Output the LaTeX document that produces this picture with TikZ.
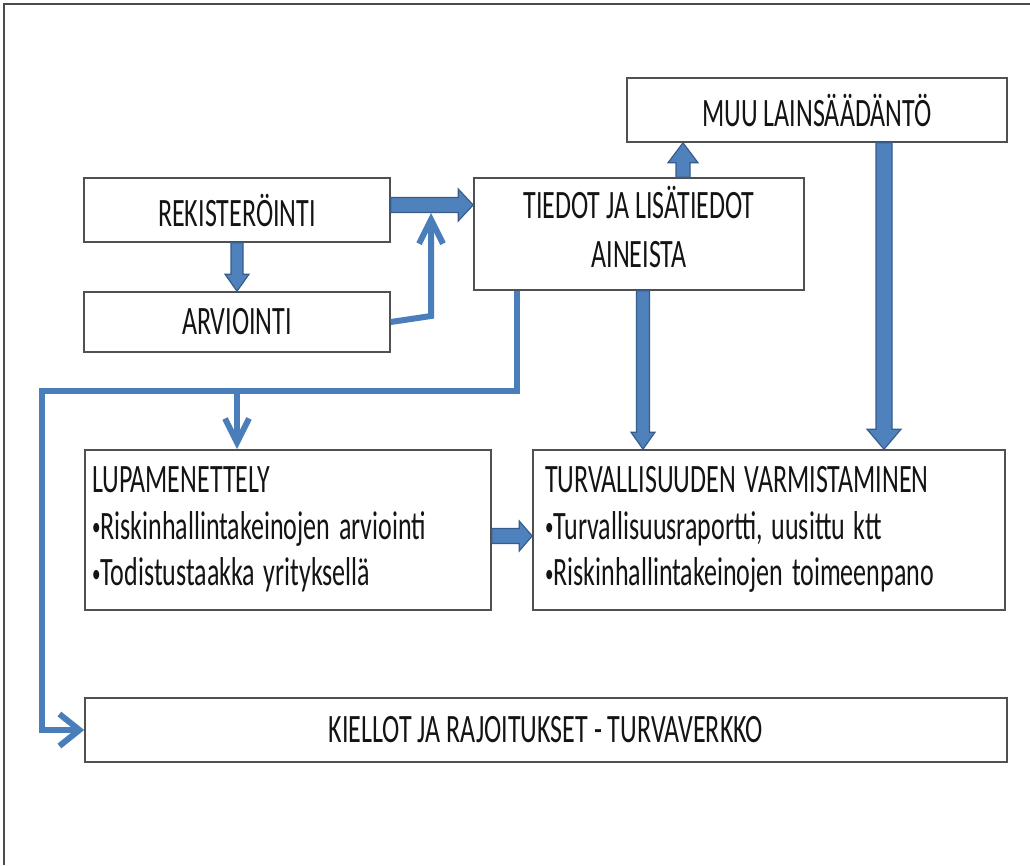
\documentclass[tikz,border=0pt]{standalone}
\usepackage{fontspec}
\setmainfont{Carlito}
\usetikzlibrary{arrows.meta,calc}
\definecolor{fatfill}{HTML}{4F81BD}
\definecolor{fatline}{HTML}{385D8A}
\definecolor{thinblue}{HTML}{4A7EBB}
\definecolor{boxline}{HTML}{505050}
\definecolor{txt}{HTML}{141414}
\newcommand{\stretchtext}[1]{\scalebox{1}[1.55]{#1}}
\newcommand{\bul}{{\fontsize{17}{20}\selectfont\raisebox{2.2pt}{•}}}
% horizontal block arrow: from, to, half shaft, half head, head length
\newcommand{\hfat}[5]{\draw[fatarrow] let \p1=(#1), \p2=(#2) in
  (\x1,\y1-#3) -- (\x2-#5,\y1-#3) -- (\x2-#5,\y1-#4) -- (\x2,\y1) --
  (\x2-#5,\y1+#4) -- (\x2-#5,\y1+#3) -- (\x1,\y1+#3) -- cycle;}
% vertical block arrow
\newcommand{\vfat}[5]{\draw[fatarrow] let \p1=(#1), \p2=(#2), \n1={sign(\y1-\y2)} in
  (\x1-#3,\y1) -- (\x1-#3,\y2+\n1*#5) -- (\x1-#4,\y2+\n1*#5) -- (\x1,\y2) --
  (\x1+#4,\y2+\n1*#5) -- (\x1+#3,\y2+\n1*#5) -- (\x1+#3,\y1) -- cycle;}
\begin{document}
\begin{tikzpicture}[x=1pt,y=-1pt,
  box/.style={draw=boxline, line width=1.6pt, fill=white, inner sep=0pt,
    text=txt, font=\fontsize{26}{30}\selectfont},
  fatarrow/.style={fill=fatfill, draw=fatline, line width=1.2pt, line join=miter},
  thin/.style={draw=thinblue, line width=6pt, line join=miter},
  tipv/.style={-{Straight Barb[length=24pt,width=24pt]}},
  tiph/.style={-{Straight Barb[length=20pt,width=32pt]}}]
\useasboundingbox (0,0) rectangle (1030,865);
\fill[white] (0,0) rectangle (1030,865);
\draw[gray!60!black, line width=1.5pt] (4,865) -- (4,4) -- (1030,4);

\node[box, minimum width=306pt, minimum height=64pt] (rek) at (237,210)
  {\stretchtext{REKISTERÖINTI}};
\node[box, minimum width=306pt, minimum height=60pt] (arv) at (237,322)
  {\stretchtext{ARVIOINTI}};
\node[box, minimum width=330pt, minimum height=112pt] (tied) at (639,234)
  {\stretchtext{\begin{tabular}{@{}c@{}}TIEDOT JA LISÄTIEDOT\\[1.5pt]AINEISTA\end{tabular}}};
\node[box, minimum width=380pt, minimum height=64pt] (muu) at (817,110)
  {\stretchtext{MUU LAINSÄÄDÄNTÖ}};
\node[box, minimum width=406pt, minimum height=160pt, inner xsep=7pt, text width=392pt, align=left] (lupa) at (288,530)
  {\stretchtext{\begin{tabular}{@{}l@{}}LUPAMENETTELY\\\bul Riskinhallintakeinojen arviointi\\\bul Todistustaakka yrityksellä\end{tabular}}};
\node[box, minimum width=472pt, minimum height=160pt, inner xsep=12pt, text width=448pt, align=left] (turv) at (769,530)
  {\stretchtext{\begin{tabular}{@{}l@{}}TURVALLISUUDEN VARMISTAMINEN\\\bul Turvallisuusraportti, uusittu ktt\\\bul Riskinhallintakeinojen toimeenpano\end{tabular}}};
\node[box, minimum width=922pt, minimum height=64pt] (kiel) at (546,730)
  {\stretchtext{KIELLOT JA RAJOITUKSET - TURVAVERKKO}};

% block arrows
\hfat{$(rek.east)+(0,-5)$}{tied.west}{7.5pt}{16pt}{15pt}
\vfat{rek.south}{arv.north}{6pt}{12pt}{17pt}
\vfat{$(tied.north)+(44,0)$}{muu.south}{7pt}{15pt}{20pt}
\vfat{$(tied.south)+(4,0)$}{turv.north}{6.5pt}{12pt}{17pt}
\vfat{$(muu.south)+(67,0)$}{turv.north}{8pt}{17pt}{20pt}
\hfat{$(lupa.east)+(0,6)$}{turv.west}{7.5pt}{15pt}{13pt}

% thin connectors
\coordinate (j) at (431,213);
\draw[thin, tipv] (arv.east) -- (j |- 0,316) -- (j);
\coordinate (t0) at ($(tied.south)+(-122,0)$);
\coordinate (c1) at ($(t0)+(0,100)$);
\coordinate (c2) at (42,0 |- c1);
\draw[thin, tiph] (t0) -- (c1) -- (c2) -- (c2 |- kiel.west) -- (kiel.west);
\draw[thin, tipv] (arv |- c1) -- (arv |- lupa.north);
\end{tikzpicture}
\end{document}
